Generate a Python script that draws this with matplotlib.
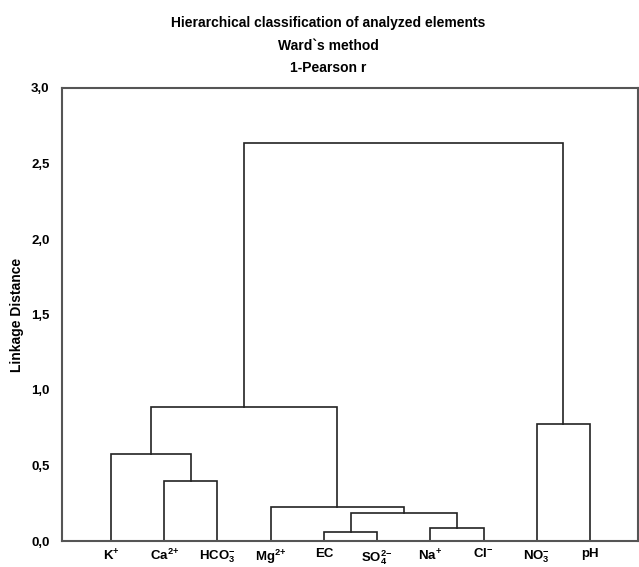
import numpy as np
from matplotlib import pyplot as plt

plt.rcParams['font.family'] = ['Liberation Sans', 'DejaVu Sans']
plt.rcParams['font.weight'] = 'bold'
plt.rcParams['mathtext.fontset'] = 'custom'
plt.rcParams['mathtext.rm'] = 'Liberation Sans:bold'
plt.rcParams['mathtext.bf'] = 'Liberation Sans:bold'
plt.rcParams['mathtext.default'] = 'bf'

labels = ['K$^{+}$', 'Ca$^{2{+}}$', 'HCO$_3^{-}$', 'Mg$^{2{+}}$', 'EC',
          'SO$_4^{2{-}}$', 'Na$^{+}$', 'Cl$^{-}$', 'NO$_3^{-}$', 'pH']

# linkage: (cluster a, cluster b, distance); new clusters numbered from 10
merge_a = [4, 6, 10, 3, 1, 0, 15, 8, 16]
merge_b = [5, 7, 11, 12, 2, 14, 13, 9, 17]
merge_h = [0.06, 0.086, 0.185, 0.225, 0.40, 0.576, 0.887, 0.775, 2.636]

yticks = [0.0, 0.5, 1.0, 1.5, 2.0, 2.5, 3.0]
yticklabels = ['0,0', '0,5', '1,0', '1,5', '2,0', '2,5', '3,0']

title_lines = ['Hierarchical classification of analyzed elements',
               'Ward`s method', '1-Pearson r']

fig = plt.figure(figsize=(6.39, 5.67), dpi=100)
ax = fig.add_axes([62/639, 1-541/567, 576/639, (541-88)/567])

n = len(labels)
xpos = {i: i + 1 for i in range(n)}
ypos = {i: 0.0 for i in range(n)}
for k in range(len(merge_a)):
    a, b, h = merge_a[k], merge_b[k], merge_h[k]
    ax.plot([xpos[a], xpos[a], xpos[b], xpos[b]], [ypos[a], h, h, ypos[b]],
            color='#222222', lw=1.2, solid_joinstyle='miter')
    cid = n + k
    xpos[cid] = (xpos[a] + xpos[b]) / 2
    ypos[cid] = h

ax.set_xlim(0.08, 10.9)
ax.set_ylim(0, 3.0)
ax.set_yticks(yticks)
ax.set_yticklabels(yticklabels, fontsize=9.5, fontweight='bold')
ax.set_xticks(range(1, n + 1))
ax.set_xticklabels(labels, fontsize=9.5, fontweight='bold')
ax.tick_params(axis='x', length=0, pad=5)
ax.tick_params(axis='y', length=0, pad=9)
for s in ax.spines.values():
    s.set_color('#555555')
    s.set_linewidth(1.5)
ax.set_ylabel('Linkage Distance', fontsize=10, fontweight='bold', labelpad=5)

for i, t in enumerate(title_lines):
    fig.text(328/639, 1 - (23 + 22.5*i)/567, t, ha='center', va='center',
             fontsize=10, fontweight='bold')

fig.savefig('out.png', dpi=100)
